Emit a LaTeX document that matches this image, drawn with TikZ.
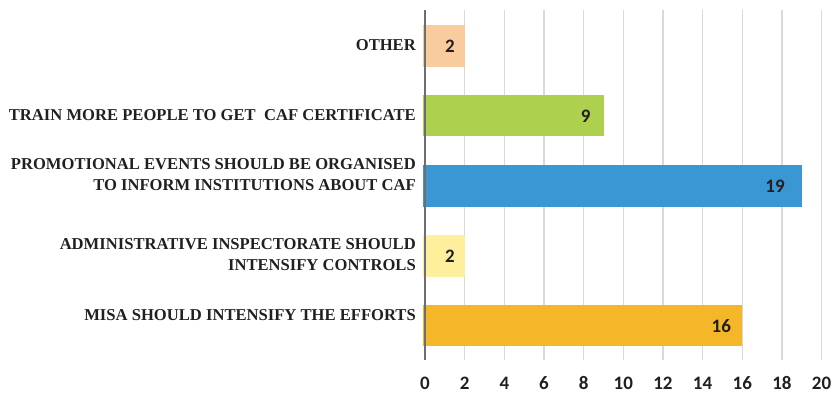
\documentclass[tikz,border=0pt]{standalone}
\usepackage{fontspec}
\setmainfont{Liberation Serif}
\newfontfamily\valfont{Carlito}
\definecolor{cOther}{HTML}{F8CC9D}
\definecolor{cTrain}{HTML}{ADD04F}
\definecolor{cPromo}{HTML}{3A97D3}
\definecolor{cAdmin}{HTML}{FDEF9C}
\definecolor{cMisa}{HTML}{F5B72A}
\definecolor{cGrid}{HTML}{D9D9D9}
\definecolor{cAxis}{HTML}{6D6E71}
\definecolor{cText}{HTML}{231F20}
\begin{document}
\begin{tikzpicture}[x=1pt,y=-1pt,
  catlabel/.style={anchor=east,align=right,font=\fontsize{16.6}{21}\selectfont\bfseries,text=cText,inner sep=0pt},
  vallabel/.style={font=\valfont\fontsize{19}{22}\selectfont\bfseries,text=cText,inner sep=0pt},
  ticklabel/.style={font=\valfont\fontsize{19}{22}\selectfont\bfseries,text=cText,inner sep=0pt},
  gridline/.style={draw=cGrid,line width=1.2pt},
  bar/.style={inner sep=0pt,outer sep=0pt}]
\useasboundingbox (0,0) rectangle (833,393);
% grid
\foreach \v in {2,4,...,20} {
  \draw[gridline] ({425+19.83*\v},10) -- ({425+19.83*\v},360);
}
% bars
\fill[cOther] (423,25) rectangle (464.7,67);
\fill[cTrain] (423,95) rectangle (603.5,136);
\fill[cPromo] (423,165) rectangle (801.8,207);
\fill[cAdmin] (423,235) rectangle (464.7,277);
\fill[cMisa]  (423,305) rectangle (742.3,346);
% axis
\coordinate (axtop) at (425,10);
\coordinate (axbot) at (425,360);
\draw[cAxis,line width=1.3pt] (axtop) -- (axbot);
% category labels
\node[catlabel] (lOther) at (416,45) {OTHER};
\node[catlabel] (lTrain) at (416,115) {TRAIN MORE PEOPLE TO GET \ CAF CERTIFICATE};
\node[catlabel] (lPromo) at (416,175) {PROMOTIONAL EVENTS SHOULD BE ORGANISED\\TO INFORM INSTITUTIONS ABOUT CAF};
\node[catlabel] (lAdmin) at (416,255) {ADMINISTRATIVE INSPECTORATE SHOULD\\INTENSIFY CONTROLS};
\node[catlabel] (lMisa) at (416,315) {MISA SHOULD INTENSIFY THE EFFORTS};
% values
\node[vallabel] (vOther) at (450,46) {2};
\node[vallabel] (vTrain) at (585.7,116) {9};
\node[vallabel] (vPromo) at (775,186) {19};
\node[vallabel] (vAdmin) at (450,256) {2};
\node[vallabel] (vMisa) at (721.3,326) {16};
% ticks
\foreach \v in {0,2,...,20} {
  \node[ticklabel] (t\v) at ({425+19.83*\v},383) {\v};
}
\end{tikzpicture}
\end{document}
